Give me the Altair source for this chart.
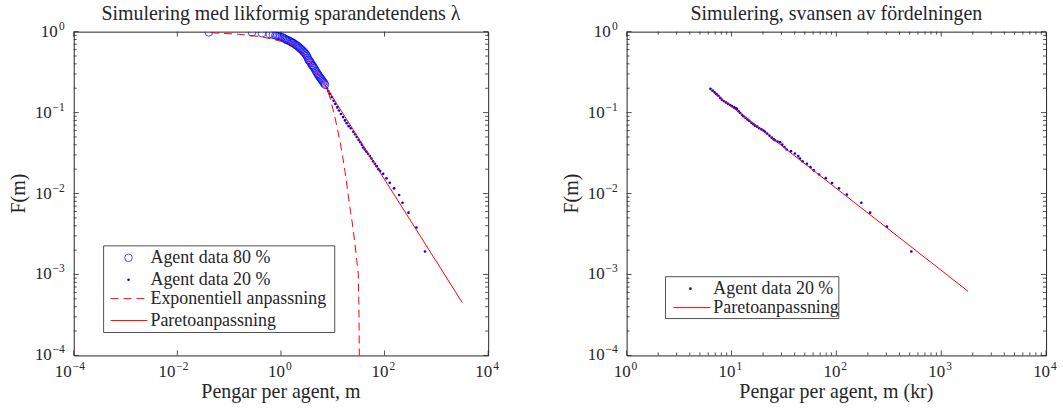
import altair as alt
import pandas as pd

# ---------------- data ----------------
# Left panel: richest 80 % of agents (open circles)
left80_x = [0.0405, 0.277, 0.431, 0.604, 0.70, 0.78, 0.84, 0.90, 0.97, 1.04,
            1.11, 1.18, 1.24, 1.30, 1.37, 1.45, 1.53, 1.60, 1.67, 1.75,
            1.85, 1.95, 2.05, 2.15, 2.25, 2.35, 2.47, 2.58, 2.70, 2.82,
            2.93, 3.05, 3.17, 3.29, 3.40, 3.52, 3.65, 3.79, 3.94, 4.08,
            4.22, 4.38, 4.57, 4.75, 4.93, 5.11, 5.29, 5.49, 5.70, 5.92,
            6.14, 6.38, 6.62, 6.86, 7.10]
left80_y = [0.98, 0.975, 0.955, 0.935, 0.915, 0.90, 0.89, 0.88, 0.87, 0.855,
            0.84, 0.82, 0.805, 0.79, 0.78, 0.77, 0.755, 0.74, 0.73, 0.72,
            0.70, 0.685, 0.67, 0.655, 0.635, 0.62, 0.605, 0.59, 0.57, 0.555,
            0.54, 0.52, 0.50, 0.475, 0.45, 0.44, 0.425, 0.41, 0.39, 0.38,
            0.37, 0.355, 0.34, 0.325, 0.312, 0.30, 0.29, 0.28, 0.27, 0.262,
            0.254, 0.245, 0.237, 0.229, 0.221]

# Left panel: top 20 % (dots)
left20_x = [7.7, 8.2, 8.9, 9.6, 10.4, 11.2, 12.2, 13.2, 14.4, 15.8,
            17.2, 18.6, 20.3, 22.4, 24.9, 27.0, 29.0, 31.5, 34.0, 36.5,
            38.7, 41.5, 44.5, 48.0, 52.1, 56.0, 60.0, 65.0, 70.2, 76.0,
            82.0, 94.0, 109, 126, 153, 191, 222, 290, 412, 604]
left20_y = [0.20, 0.185, 0.17, 0.155, 0.14, 0.128, 0.116, 0.106, 0.096, 0.088,
            0.080, 0.074, 0.068, 0.064, 0.058, 0.054, 0.050, 0.046, 0.043, 0.040,
            0.037, 0.035, 0.033, 0.031, 0.029, 0.027, 0.025, 0.0233, 0.0218, 0.0200,
            0.0190, 0.0175, 0.0154, 0.0136, 0.0116, 0.0096, 0.0077, 0.0058, 0.0038, 0.00192]

# Left panel: exponential fit (dashed)
left_exp_x = [0.045, 0.15, 0.4, 0.72, 1.0, 1.5, 2.0, 2.7, 3.4, 4.2,
              5.0, 6.0, 7.0, 7.67, 9.0, 10.3, 11.1, 12.3, 13.8, 15.5,
              17.2, 19.3, 21.5, 24.0, 26.9, 29.0, 31.1, 32.0, 32.6, 32.9]
left_exp_y = [0.97, 0.93, 0.87, 0.80, 0.76, 0.70, 0.63, 0.54, 0.45, 0.37,
              0.31, 0.26, 0.225, 0.20, 0.148, 0.104, 0.0857, 0.063, 0.0443, 0.029,
              0.0189, 0.011, 0.0067, 0.0042, 0.00237, 0.0015, 0.00101, 0.0004, 0.0001, 0.00006]

# Left panel: Pareto fit (solid)
left_par_x = [7.2, 3162]
left_par_y = [0.215, 0.00045]

# Right panel: top 20 % (dots)
right20_x = [6.3, 6.6, 6.9, 7.2, 7.5, 7.8, 8.1, 8.5, 8.9, 9.3,
             9.7, 10.1, 10.6, 11.0, 11.3, 11.7, 12.1, 12.6, 13.0, 13.6,
             14.2, 14.8, 15.5, 16.2, 16.8, 17.6, 18.4, 19.3, 20.2, 20.9,
             21.9, 23.0, 24.2, 25.2, 26.0, 27.5, 29.1, 30.5, 32.0, 33.6,
             36.9, 40.3, 43.3, 45.0, 47.6, 52.4, 56.6, 61.0, 68.5, 79.3,
             91.0, 106, 126, 173, 210, 303, 519]
right20_y = [0.197, 0.187, 0.178, 0.169, 0.161, 0.152, 0.144, 0.138, 0.133, 0.128,
             0.124, 0.120, 0.116, 0.113, 0.111, 0.104, 0.099, 0.094, 0.090, 0.086,
             0.082, 0.079, 0.075, 0.072, 0.069, 0.067, 0.064, 0.062, 0.060, 0.058,
             0.055, 0.052, 0.049, 0.047, 0.0455, 0.044, 0.043, 0.0402, 0.0375, 0.035,
             0.0334, 0.0312, 0.029, 0.027, 0.025, 0.0233, 0.0212, 0.0193, 0.0172, 0.0155,
             0.0135, 0.0116, 0.0097, 0.0077, 0.0058, 0.0039, 0.00192]

# Right panel: Pareto fit
right_par_x = [6.3, 1803]
right_par_y = [0.19, 0.00062]

# texts
left_title = "Simulering med likformig sparandetendens λ"
right_title = "Simulering, svansen av fördelningen"
left_xtitle = "Pengar per agent, m"
right_xtitle = "Pengar per agent, m (kr)"
y_title = "F(m)"
left_legend = ["Agent data 80 %", "Agent data 20 %", "Exponentiell anpassning", "Paretoanpassning"]
right_legend = ["Agent data 20 %", "Paretoanpassning"]

# tick values and labels (10^exponent)
left_x_ticks = [1e-4, 1e-2, 1.0, 1e2, 1e4]
left_x_exps = ["−4", "−2", "0", "2", "4"]
right_x_ticks = [1.0, 10.0, 100.0, 1000.0, 10000.0]
right_x_exps = ["0", "1", "2", "3", "4"]
y_ticks = [1e-4, 1e-3, 1e-2, 1e-1, 1.0]
y_exps = ["−4", "−3", "−2", "−1", "0"]

# ---------------- style ----------------
FONT = "Liberation Serif"
TXT = "#262626"
BLUE = "#0000ff"
RED = "#ff0000"
H = 325
W_L = 416
W_R = 421
MAJ, MINL = 5, 3
CIRCLE_SIZE = 58
DOT_SIZE = 7


def minor_vals(lo, hi):
    return [k * 10.0 ** e for e in range(lo, hi) for k in range(2, 10)]


def xy_df(xv, yv):
    return pd.DataFrame({"x": xv, "y": yv})


def tick_layers(xsc, ysc, W, xmaj, xmin_, ymaj, ymin_):
    out = []
    for vals, L in ((xmaj, MAJ), (xmin_, MINL)):
        if not vals:
            continue
        b = alt.Chart(pd.DataFrame({"v": vals})).mark_rule(color=TXT, strokeWidth=0.8)
        xe = alt.X("v:Q", scale=xsc, axis=None)
        out.append(b.encode(x=xe, y=alt.value(H), y2=alt.value(H - L)))
        out.append(b.encode(x=xe, y=alt.value(0), y2=alt.value(L)))
    for vals, L in ((ymaj, MAJ), (ymin_, MINL)):
        if not vals:
            continue
        b = alt.Chart(pd.DataFrame({"v": vals})).mark_rule(color=TXT, strokeWidth=0.8)
        ye = alt.Y("v:Q", scale=ysc, axis=None)
        out.append(b.encode(y=ye, x=alt.value(0), x2=alt.value(L)))
        out.append(b.encode(y=ye, x=alt.value(W), x2=alt.value(W - L)))
    return out


def x_label_layers(xsc, vals, exps):
    out = []
    neg = [(v, e) for v, e in zip(vals, exps) if e.startswith("−")]
    pos = [(v, e) for v, e in zip(vals, exps) if not e.startswith("−")]
    for grp, b in ((neg, -1), (pos, 5)):
        if not grp:
            continue
        df = pd.DataFrame({"v": [g[0] for g in grp], "e": [g[1] for g in grp], "t": ["10"] * len(grp)})
        base = alt.Chart(df)
        out.append(base.mark_text(align="right", baseline="alphabetic", dx=b - 1, font=FONT,
                                  fontSize=17, color=TXT)
                   .encode(x=alt.X("v:Q", scale=xsc, axis=None), y=alt.value(H + 22), text="t:N"))
        out.append(base.mark_text(align="left", baseline="alphabetic", dx=b, font=FONT,
                                  fontSize=11.5, color=TXT)
                   .encode(x=alt.X("v:Q", scale=xsc, axis=None), y=alt.value(H + 15), text="e:N"))
    return out


def y_label_layers(ysc, vals, exps):
    out = []
    neg = [(v, e) for v, e in zip(vals, exps) if e.startswith("−")]
    pos = [(v, e) for v, e in zip(vals, exps) if not e.startswith("−")]
    for grp, xo in ((neg, -22), (pos, -16)):
        if not grp:
            continue
        df = pd.DataFrame({"v": [g[0] for g in grp], "e": [g[1] for g in grp], "t": ["10"] * len(grp)})
        base = alt.Chart(df)
        out.append(base.mark_text(align="right", baseline="alphabetic", dy=5, font=FONT,
                                  fontSize=17, color=TXT)
                   .encode(y=alt.Y("v:Q", scale=ysc, axis=None), x=alt.value(xo), text="t:N"))
        out.append(base.mark_text(align="right", baseline="alphabetic", dy=-2, font=FONT,
                                  fontSize=11.5, color=TXT)
                   .encode(y=alt.Y("v:Q", scale=ysc, axis=None), x=alt.value(-9), text="e:N"))
    return out


def title_layers(W, title, xtitle, ytitle):
    return [
        alt.Chart(pd.DataFrame({"t": [title]})).mark_text(
            align="center", baseline="middle", font=FONT, fontSize=20, color=TXT
        ).encode(x=alt.value(W / 2), y=alt.value(-18), text="t:N"),
        alt.Chart(pd.DataFrame({"t": [xtitle]})).mark_text(
            align="center", baseline="middle", font=FONT, fontSize=20, color=TXT
        ).encode(x=alt.value(W / 2), y=alt.value(H + 37), text="t:N"),
        alt.Chart(pd.DataFrame({"t": [ytitle]})).mark_text(
            align="center", baseline="middle", font=FONT, fontSize=20, color=TXT, angle=270
        ).encode(x=alt.value(-55), y=alt.value(H / 2), text="t:N"),
    ]


def legend_layers(box, rows):
    x0, y0, x1, y1 = box
    out = [alt.Chart(pd.DataFrame({"a": [0]})).mark_rect(fill="white", stroke=TXT, strokeWidth=0.8)
           .encode(x=alt.value(x0), x2=alt.value(x1), y=alt.value(y0), y2=alt.value(y1))]
    for kind, label, sx, l0, l1, tx, ty in rows:
        one = alt.Chart(pd.DataFrame({"t": [label]}))
        if kind == "circle":
            out.append(one.mark_point(shape="circle", filled=False, color=BLUE, size=CIRCLE_SIZE,
                                      strokeWidth=1)
                       .encode(x=alt.value(sx), y=alt.value(ty)))
        elif kind == "dot":
            out.append(one.mark_point(shape="circle", filled=True, color=BLUE, size=DOT_SIZE, opacity=1)
                       .encode(x=alt.value(sx), y=alt.value(ty)))
        elif kind == "dash":
            out.append(one.mark_rule(color=RED, strokeWidth=1, strokeDash=[8, 5])
                       .encode(x=alt.value(l0), x2=alt.value(l1), y=alt.value(ty)))
        else:
            out.append(one.mark_rule(color=RED, strokeWidth=1)
                       .encode(x=alt.value(l0), x2=alt.value(l1), y=alt.value(ty)))
        out.append(one.mark_text(align="left", baseline="middle", font=FONT, fontSize=18, color=TXT)
                   .encode(x=alt.value(tx), y=alt.value(ty), text="t:N"))
    return out


ysc = alt.Scale(type="log", domain=[1e-4, 1.0], nice=False)
y_minor = minor_vals(-4, 0)

# ---------------- left panel ----------------
xsl = alt.Scale(type="log", domain=[1e-4, 1e4], nice=False)

l_c80 = alt.Chart(xy_df(left80_x, left80_y)).mark_point(
    shape="circle", filled=False, color=BLUE, size=CIRCLE_SIZE, strokeWidth=1, clip=True
).encode(x=alt.X("x:Q", scale=xsl, axis=None), y=alt.Y("y:Q", scale=ysc, axis=None))
l_d20 = alt.Chart(xy_df(left20_x, left20_y)).mark_point(
    shape="circle", filled=True, color=BLUE, size=DOT_SIZE, opacity=1, clip=True
).encode(x=alt.X("x:Q", scale=xsl, axis=None), y=alt.Y("y:Q", scale=ysc, axis=None))
l_exp = alt.Chart(xy_df(left_exp_x, left_exp_y)).mark_line(
    color=RED, strokeWidth=1, strokeDash=[8, 5], clip=True
).encode(x=alt.X("x:Q", scale=xsl, axis=None), y=alt.Y("y:Q", scale=ysc, axis=None))
l_par = alt.Chart(xy_df(left_par_x, left_par_y)).mark_line(
    color=RED, strokeWidth=1, clip=True
).encode(x=alt.X("x:Q", scale=xsl, axis=None), y=alt.Y("y:Q", scale=ysc, axis=None))

left_rows = [
    ("circle", left_legend[0], 55, 0, 0, 77, 227),
    ("dot", left_legend[1], 55, 0, 0, 77, 249),
    ("dash", left_legend[2], 0, 37, 74, 77, 268),
    ("line", left_legend[3], 0, 37, 74, 77, 290),
]
left_layers = ([l_c80, l_d20, l_exp, l_par]
               + tick_layers(xsl, ysc, W_L, left_x_ticks, [], y_ticks, y_minor)
               + x_label_layers(xsl, left_x_ticks, left_x_exps)
               + y_label_layers(ysc, y_ticks, y_exps)
               + title_layers(W_L, left_title, left_xtitle, y_title)
               + legend_layers((30, 215, 262, 302), left_rows))
left = alt.layer(*left_layers).properties(width=W_L, height=H)

# ---------------- right panel ----------------
xsr = alt.Scale(type="log", domain=[1.0, 1e4], nice=False)

r_d20 = alt.Chart(xy_df(right20_x, right20_y)).mark_point(
    shape="circle", filled=True, color=BLUE, size=DOT_SIZE, opacity=1, clip=True
).encode(x=alt.X("x:Q", scale=xsr, axis=None), y=alt.Y("y:Q", scale=ysc, axis=None))
r_par = alt.Chart(xy_df(right_par_x, right_par_y)).mark_line(
    color=RED, strokeWidth=1, clip=True
).encode(x=alt.X("x:Q", scale=xsr, axis=None), y=alt.Y("y:Q", scale=ysc, axis=None))

right_rows = [
    ("dot", right_legend[0], 64, 0, 0, 87, 258),
    ("line", right_legend[1], 0, 47, 84, 87, 277),
]
right_layers = ([r_d20, r_par]
                + tick_layers(xsr, ysc, W_R, right_x_ticks, minor_vals(0, 4), y_ticks, y_minor)
                + x_label_layers(xsr, right_x_ticks, right_x_exps)
                + y_label_layers(ysc, y_ticks, y_exps)
                + title_layers(W_R, right_title, right_xtitle, y_title)
                + legend_layers((39, 246, 213, 288), right_rows))
right = alt.layer(*right_layers).properties(width=W_R, height=H)

chart = alt.hconcat(left, right, spacing=139, bounds="flush").properties(
    padding={"left": 8, "top": 2, "right": 5, "bottom": 5},
    background="white",
).configure_view(stroke=TXT, strokeWidth=1)

chart.save("out.html", embed_options={"renderer": "svg", "actions": False})
